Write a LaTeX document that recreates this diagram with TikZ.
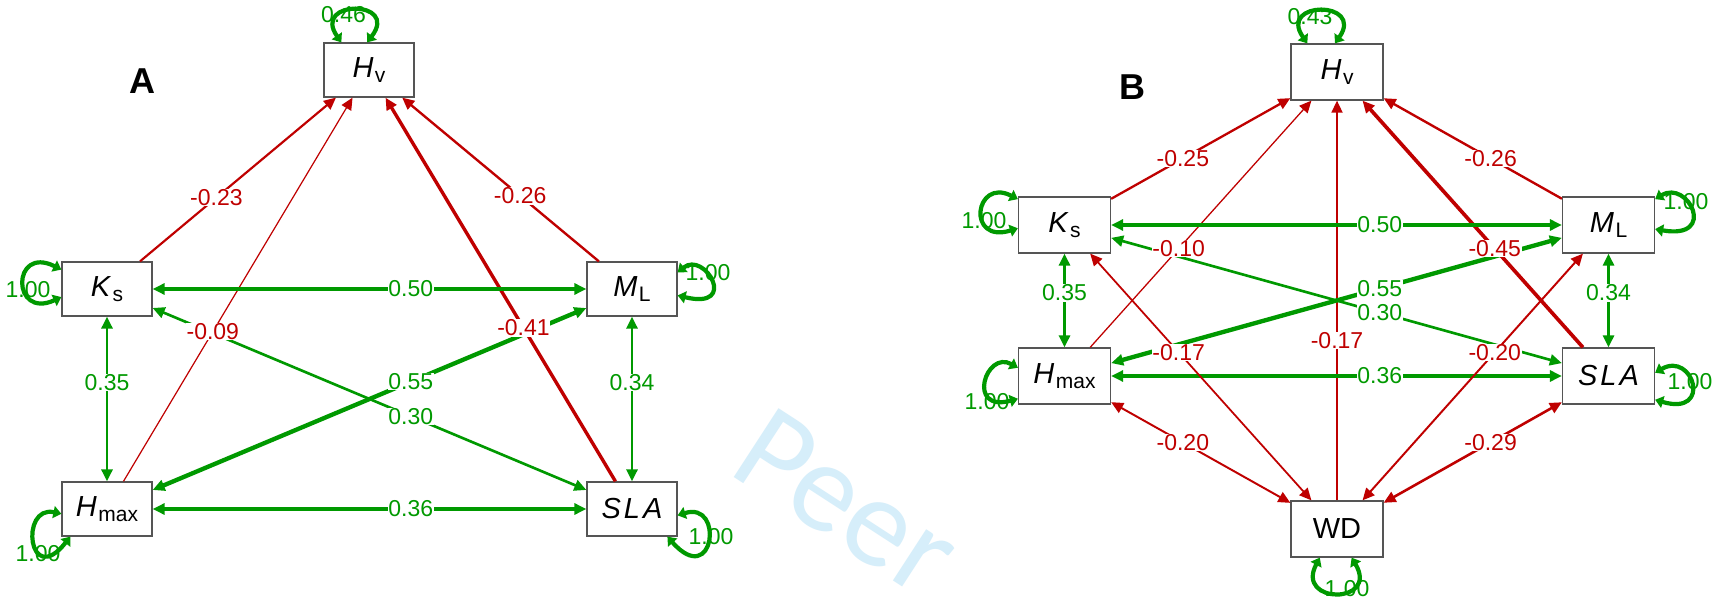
\documentclass[tikz,border=0pt]{standalone}
\usepackage{fontspec}
\setmainfont{Liberation Sans}
\newfontfamily\wmfont{Carlito}
\usetikzlibrary{arrows.meta}
\definecolor{posgreen}{HTML}{009900}
\definecolor{negred}{HTML}{BF0000}
\definecolor{boxgray}{HTML}{555555}
\definecolor{wmblue}{HTML}{D6EEFA}
\newcommand\lowsub[1]{\kern1.5pt\raisebox{-5pt}{\fontsize{21}{21}\selectfont #1}}

\begin{document}
\begin{tikzpicture}[x=1pt, y=-1pt,
  >={Triangle[length=12pt,width=11pt]},
  varbox/.style={draw=boxgray, line width=1.3pt, fill=white, inner sep=0pt,
    minimum width=90pt, minimum height=54pt, font=\fontsize{29}{32}\selectfont},
  varboxB/.style={varbox, minimum width=92pt, minimum height=56pt},
  oneway/.style={->},
  twoway/.style={<->},
  loopedge/.style={draw=posgreen, line width=4.2pt,
    arrows={Triangle[length=8pt,width=12pt]-Triangle[length=8pt,width=12pt]}},
  elab/.style={fill=white, inner sep=0.6pt, font=\fontsize{23}{23}\selectfont},
  llab/.style={inner sep=0pt, text=posgreen, font=\fontsize{23}{23}\selectfont},
  panel/.style={inner sep=0pt, font=\bfseries\fontsize{36}{36}\selectfont}
]
\useasboundingbox (0,0) rectangle (1715,601);
\fill[white] (0,0) rectangle (1715,601);

% watermark
\node[font=\wmfont\fontsize{128}{128}\selectfont, text=wmblue, rotate=-33,
  anchor=base west, inner sep=0pt] (wm) at (726,472) {Peer};

% panel letters
\node[panel] (panA) at (142,81) {A};
\node[panel] (panB) at (1132,87) {B};

% ---------- panel A: variables ----------
\node[varbox] (HvA)   at (369,70)  {\textit{H}\lowsub{v}};
\node[varbox] (KsA)   at (107,289) {\textit{K}\lowsub{s}};
\node[varbox] (MLA)   at (632,289) {\textit{M}\lowsub{L}};
\node[varbox] (HmaxA) at (107,509) {\textit{H}\lowsub{max}};
\node[varbox] (SLAA)  at (632,509) {\textit{S\kern3pt L\kern3pt A}};

% ---------- panel B: variables ----------
\node[varboxB] (HvB)   at (1337,72)    {\textit{H}\lowsub{v}};
\node[varboxB] (KsB)   at (1064.5,225) {\textit{K}\lowsub{s}};
\node[varboxB] (MLB)   at (1608.5,225) {\textit{M}\lowsub{L}};
\node[varboxB] (HmaxB) at (1064.5,376) {\textit{H}\lowsub{max}};
\node[varboxB] (SLAB)  at (1608.5,376) {\textit{S\kern3pt L\kern3pt A}};
\node[varboxB] (WDB)   at (1337,529)   {WD};

% ---------- panel A: paths ----------
\draw[negred, oneway, line width=2.16pt] (KsA) -- (HvA) coordinate[pos=0.39] (lA1);
\draw[negred, oneway, line width=1.21pt] (HmaxA) -- (HvA) coordinate[pos=0.39] (lA2);
\draw[negred, oneway, line width=3.39pt] (SLAA) -- (HvA) coordinate[pos=0.40] (lA3);
\draw[negred, oneway, line width=2.37pt] (MLA) -- (HvA) coordinate[pos=0.40] (lA4);
\draw[posgreen, twoway, line width=4.0pt] (MLA) -- (KsA) coordinate[pos=0.405] (lA5);
\draw[posgreen, twoway, line width=4.34pt] (MLA) -- (HmaxA) coordinate[pos=0.405] (lA6);
\draw[posgreen, twoway, line width=2.64pt] (SLAA) -- (KsA) coordinate[pos=0.405] (lA7);
\draw[posgreen, twoway, line width=3.05pt] (SLAA) -- (HmaxA) coordinate[pos=0.405] (lA8);
\draw[posgreen, twoway, line width=2.98pt] (KsA) -- (HmaxA) coordinate[pos=0.40] (lA9);
\draw[posgreen, twoway, line width=2.91pt] (MLA) -- (SLAA) coordinate[pos=0.40] (lA10);

% panel A: variances
\draw[loopedge] (HvA.135) .. controls +(-30,-43) and +(33,-43) .. (HvA.94.2);
\draw[loopedge] (KsA.157) .. controls +(-50,-25) and +(-50,23) .. (KsA.190);
\draw[loopedge] (MLA.20.7) .. controls +(27,-22) and +(62,15) .. (MLA.352.4);
\draw[loopedge] (HmaxA.186.3) .. controls +(-42,-9) and +(-42,53) .. (HmaxA.217.6);
\draw[loopedge] (SLAA.352.6) .. controls +(47,-15) and +(47,53) .. (SLAA.322.1);

% ---------- panel B: paths ----------
\draw[negred, oneway, line width=2.3pt]  (KsB) -- (HvB) coordinate[pos=0.40] (lB1);
\draw[negred, oneway, line width=1.28pt] (HmaxB) -- (HvB) coordinate[pos=0.40] (lB2);
\draw[negred, oneway, line width=1.76pt] (WDB) -- (HvB) coordinate[pos=0.40] (lB3);
\draw[negred, oneway, line width=3.66pt] (SLAB) -- (HvB) coordinate[pos=0.40] (lB4);
\draw[negred, oneway, line width=2.37pt] (MLB) -- (HvB) coordinate[pos=0.40] (lB5);
\draw[posgreen, twoway, line width=4.0pt]  (MLB) -- (KsB) coordinate[pos=0.404] (lB6);
\draw[posgreen, twoway, line width=4.34pt] (MLB) -- (HmaxB) coordinate[pos=0.404] (lB7);
\draw[posgreen, twoway, line width=2.64pt] (SLAB) -- (KsB) coordinate[pos=0.404] (lB8);
\draw[posgreen, twoway, line width=3.05pt] (SLAB) -- (HmaxB) coordinate[pos=0.404] (lB9);
\draw[posgreen, twoway, line width=2.98pt] (KsB) -- (HmaxB) coordinate[pos=0.42] (lB10);
\draw[posgreen, twoway, line width=2.91pt] (MLB) -- (SLAB) coordinate[pos=0.42] (lB11);
\draw[negred, twoway, line width=1.76pt] (KsB) -- (WDB) coordinate[pos=0.40] (lB12);
\draw[negred, twoway, line width=1.96pt] (MLB) -- (WDB) coordinate[pos=0.40] (lB13);
\draw[negred, twoway, line width=1.96pt] (HmaxB) -- (WDB) coordinate[pos=0.40] (lB14);
\draw[negred, twoway, line width=2.57pt] (SLAB) -- (WDB) coordinate[pos=0.40] (lB15);

% panel B: variances
\draw[loopedge] (HvB.136) .. controls +(-30,-43) and +(30,-43) .. (HvB.94.1);
\draw[loopedge] (KsB.151.7) .. controls +(-43,-22) and +(-52,16) .. (KsB.184.9);
\draw[loopedge] (MLB.29.4) .. controls +(33,-20) and +(63,11) .. (MLB.355.2);
\draw[loopedge] (HmaxB.170.4) .. controls +(-32,-18) and +(-52,14) .. (HmaxB.206.8);
\draw[loopedge] (SLAB.4.8) .. controls +(38,-22) and +(58,17) .. (SLAB.333.4);
\draw[loopedge] (WDB.239.6) .. controls +(-25,47) and +(28,47) .. (WDB.297.4);

% ---------- path coefficients ----------
\node[elab, text=negred]   at (lA1) {-0.23};
\node[elab, text=negred]   at (lA2) {-0.09};
\node[elab, text=negred]   at (lA3) {-0.41};
\node[elab, text=negred]   at (lA4) {-0.26};
\node[elab, text=posgreen] at (lA5) {0.50};
\node[elab, text=posgreen] at (lA6) {0.55};
\node[elab, text=posgreen] at (lA7) {0.30};
\node[elab, text=posgreen] at (lA8) {0.36};
\node[elab, text=posgreen] at (lA9) {0.35};
\node[elab, text=posgreen] at (lA10) {0.34};

\node[elab, text=negred]   at (lB1) {-0.25};
\node[elab, text=negred]   at (lB2) {-0.10};
\node[elab, text=negred]   at (lB3) {-0.17};
\node[elab, text=negred]   at (lB4) {-0.45};
\node[elab, text=negred]   at (lB5) {-0.26};
\node[elab, text=posgreen] at (lB6) {0.50};
\node[elab, text=posgreen] at (lB7) {0.55};
\node[elab, text=posgreen] at (lB8) {0.30};
\node[elab, text=posgreen] at (lB9) {0.36};
\node[elab, text=posgreen] at (lB10) {0.35};
\node[elab, text=posgreen] at (lB11) {0.34};
\node[elab, text=negred]   at (lB12) {-0.17};
\node[elab, text=negred]   at (lB13) {-0.20};
\node[elab, text=negred]   at (lB14) {-0.20};
\node[elab, text=negred]   at (lB15) {-0.29};

% variance values
\node[llab] (vHvA)   at (343.5,15) {0.46};
\node[llab] (vKsA)   at (28,290)   {1.00};
\node[llab] (vMLA)   at (708,273)  {1.00};
\node[llab] (vHmaxA) at (38,554)   {1.00};
\node[llab] (vSLAA)  at (711,537)  {1.00};
\node[llab] (vHvB)   at (1310,17)  {0.43};
\node[llab] (vKsB)   at (984,221)  {1.00};
\node[llab] (vMLB)   at (1686,202) {1.00};
\node[llab] (vHmaxB) at (987,402)  {1.00};
\node[llab] (vSLAB)  at (1690,382) {1.00};
\node[llab] (vWDB)   at (1347,589) {1.00};
\end{tikzpicture}
\end{document}
